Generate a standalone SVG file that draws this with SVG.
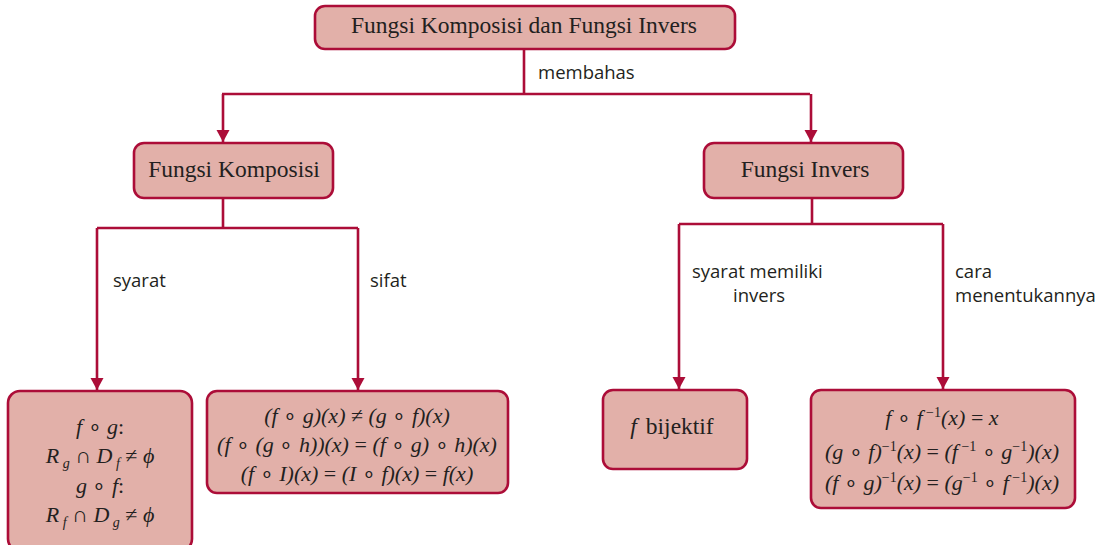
<svg xmlns="http://www.w3.org/2000/svg" width="1110" height="545" viewBox="0 0 1110 545">
<style>
.box{fill:#e2b0a9;stroke:#ac0d38;stroke-width:2.6}
.ln{fill:none;stroke:#ac0d38;stroke-width:2.6}
.t{font-family:"Liberation Serif",serif;font-size:23.5px;fill:#231f20;text-anchor:middle}
.m{font-family:"Liberation Serif",serif;font-size:22px;font-style:italic;fill:#231f20;text-anchor:middle}
.lb{font-family:"Open Sans","Noto Sans",sans-serif;font-size:18.5px;fill:#231f20}
.up{font-style:normal}
.sb{font-size:14px}
</style>
<defs>
<marker id="arr" markerWidth="14" markerHeight="14" refX="12" refY="7" orient="auto" markerUnits="userSpaceOnUse">
<path d="M0,0.5 L12,7 L0,13.5 Z" fill="#ac0d38"/>
</marker>
</defs>
<g id="connectors">
<polyline class="ln" points="524,49 524,94"/>
<polyline class="ln" points="222,94 810,94"/>
<polyline class="ln" points="223,94 223,142" marker-end="url(#arr)"/>
<polyline class="ln" points="811,94 811,142" marker-end="url(#arr)"/>
<polyline class="ln" points="223,198 223,228"/>
<polyline class="ln" points="97,228 358,228"/>
<polyline class="ln" points="97,228 97,390" marker-end="url(#arr)"/>
<polyline class="ln" points="358,228 358,390" marker-end="url(#arr)"/>
<polyline class="ln" points="812,198 812,224"/>
<polyline class="ln" points="679,224 943,224"/>
<polyline class="ln" points="679,224 679,389" marker-end="url(#arr)"/>
<polyline class="ln" points="943,224 943,389" marker-end="url(#arr)"/>
<text class="lb" x="538" y="79">membahas</text>
<text class="lb" x="113" y="287">syarat</text>
<text class="lb" x="370" y="287">sifat</text>
<text class="lb" x="692" y="278">syarat memiliki</text>
<text class="lb" x="733" y="302">invers</text>
<text class="lb" x="955" y="278">cara</text>
<text class="lb" x="955" y="302">menentukannya</text>
</g>
<g id="root">
<rect class="box" x="315" y="6" width="420" height="43" rx="10"/>
<text class="t" x="524" y="33">Fungsi Komposisi dan Fungsi Invers</text>
</g>
<g id="komposisi">
<rect class="box" x="134" y="143" width="199" height="55" rx="10"/>
<text class="t" x="234" y="177">Fungsi Komposisi</text>
</g>
<g id="invers">
<rect class="box" x="704" y="143" width="199" height="55" rx="10"/>
<text class="t" x="805" y="177">Fungsi Invers</text>
</g>
<g id="syarat-komposisi">
<rect class="box" x="8" y="391" width="184" height="160" rx="12"/>
<text class="m" x="100" y="434">f <tspan class="up">∘</tspan> g<tspan class="up">:</tspan></text>
<text class="m" x="100" y="463">R<tspan class="sb" dy="5"> g</tspan><tspan class="up" dy="-5"> ∩ </tspan>D<tspan class="sb" dy="5"> f</tspan><tspan class="up" dy="-5">  ≠ </tspan>ϕ</text>
<text class="m" x="100" y="493">g <tspan class="up">∘</tspan> f<tspan class="up">:</tspan></text>
<text class="m" x="100" y="522">R<tspan class="sb" dy="5"> f</tspan><tspan class="up" dy="-5"> ∩ </tspan>D<tspan class="sb" dy="5"> g</tspan><tspan class="up" dy="-5">  ≠ </tspan>ϕ</text>
</g>
<g id="sifat-komposisi">
<rect class="box" x="207" y="391" width="301" height="102" rx="10"/>
<text class="m" x="357" y="423">(f <tspan class="up">∘</tspan> g)(x) <tspan class="up">≠</tspan> (g <tspan class="up">∘</tspan> f)(x)</text>
<text class="m" x="357" y="452">(f <tspan class="up">∘</tspan> (g <tspan class="up">∘</tspan> h))(x) <tspan class="up">=</tspan> (f <tspan class="up">∘</tspan> g) <tspan class="up">∘</tspan> h)(x)</text>
<text class="m" x="357" y="481">(f <tspan class="up">∘</tspan> I)(x) <tspan class="up">=</tspan> (I <tspan class="up">∘</tspan> f)(x) <tspan class="up">=</tspan> f(x)</text>
</g>
<g id="bijektif">
<rect class="box" x="603" y="390" width="144" height="79" rx="10"/>
<text class="t" x="672" y="434"><tspan font-style="italic">f</tspan><tspan dx="9">bijektif</tspan></text>
</g>
<g id="cara-invers">
<rect class="box" x="811" y="390" width="264" height="118" rx="10"/>
<text class="m" x="942" y="425">f <tspan class="up">∘</tspan> f<tspan class="up sb" dy="-8"> −1</tspan><tspan dy="8">(x) </tspan><tspan class="up">=</tspan> x</text>
<text class="m" x="942" y="459">(g <tspan class="up">∘</tspan> f)<tspan class="up sb" dy="-8">−1</tspan><tspan dy="8">(x) </tspan><tspan class="up">=</tspan> (f<tspan class="up sb" dy="-8"> −1</tspan><tspan class="up" dy="8"> ∘ </tspan>g<tspan class="up sb" dy="-8">−1</tspan><tspan dy="8">)(x)</tspan></text>
<text class="m" x="942" y="490">(f <tspan class="up">∘</tspan> g)<tspan class="up sb" dy="-8">−1</tspan><tspan dy="8">(x) </tspan><tspan class="up">=</tspan> (g<tspan class="up sb" dy="-8">−1</tspan><tspan class="up" dy="8"> ∘ </tspan>f<tspan class="up sb" dy="-8"> −1</tspan><tspan dy="8">)(x)</tspan></text>
</g>
</svg>
